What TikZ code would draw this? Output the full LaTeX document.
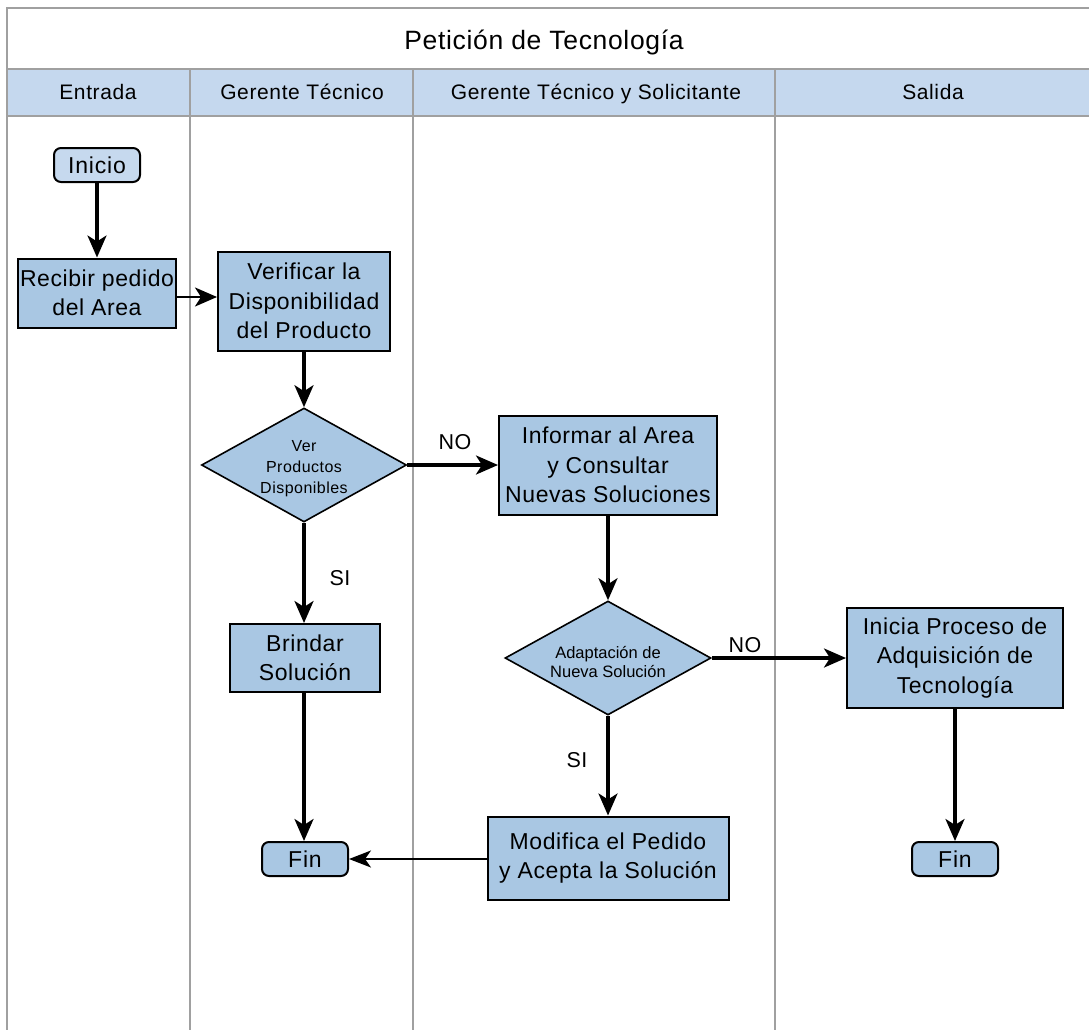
\documentclass[tikz,border=0pt]{standalone}
\usepackage{fontspec}
\setmainfont{Liberation Sans}
\usetikzlibrary{shapes.geometric,arrows.meta}

\definecolor{boxfill}{RGB}{169,199,227}
\definecolor{startfill}{RGB}{198,217,238}
\definecolor{headfill}{RGB}{197,216,238}
\definecolor{laneline}{RGB}{160,160,160}

% sized text with a little extra tracking
\newcommand{\txtsize}[3]{\fontsize{#1}{#2}\selectfont\addfontfeatures{LetterSpace=#3}}

\tikzset{
  procbox/.style={draw=black, line width=2pt, fill=boxfill, align=center,
    inner sep=0pt, font=\txtsize{23}{29.5}{2.5}},
  termbox/.style={draw=black, line width=2pt, rounded corners=7pt, align=center,
    minimum width=86pt, minimum height=34pt, inner sep=0pt, font=\txtsize{23}{29}{3.5}},
  decbox/.style={draw=black, line width=1.6pt, fill=boxfill, diamond, inner sep=0pt},
  dectext/.style={align=center, inner sep=0pt},
  tip/.style={-{Stealth[length=22pt,width=19pt,inset=6pt]}},
  flow/.style={line width=3.2pt, tip},
  thinflow/.style={line width=2pt, -{Stealth[length=22pt,width=17pt,inset=6pt]}},
  lbl/.style={inner sep=0pt, font=\txtsize{21.5}{25}{2.5}},
  headtxt/.style={inner sep=0pt, anchor=base, font=\txtsize{21}{24}{3}},
  lane/.style={draw=laneline, line width=2pt}
}

\begin{document}
\begin{tikzpicture}[x=1pt,y=-1pt]
\useasboundingbox (0,0) rectangle (1089,1030);
\fill[white] (0,0) rectangle (1089,1030);

% pool frame, title and lane headers
\fill[headfill] (7,69) rectangle (1089,116);
\draw[lane] (1089,8) -- (7,8) -- (7,1030);
\draw[lane] (7,69) -- (1089,69);
\draw[lane] (7,116) -- (1089,116);
\draw[lane] (190,69) -- (190,1030);
\draw[lane] (413,69) -- (413,1030);
\draw[lane] (775,69) -- (775,1030);

\node[inner sep=0pt, anchor=base, font=\txtsize{26.5}{30}{2.5}] (title) at (544,50)
  {Petición de Tecnología};
\node[headtxt] (h1) at (98,100) {Entrada};
\node[headtxt] (h2) at (302,100) {Gerente Técnico};
\node[headtxt] (h3) at (596,100) {Gerente Técnico y Solicitante};
\node[headtxt] (h4) at (933,100) {Salida};

% flow nodes
\node[termbox, fill=startfill] (inicio) at (97,165) {Inicio};
\node[procbox, minimum width=158pt, minimum height=69pt] (recibir) at (97,293)
  {Recibir pedido\\del Area};
\node[procbox, minimum width=172pt, minimum height=99pt] (verificar) at (304,301)
  {Verificar la\\Disponibilidad\\del Producto};
\node[decbox, minimum width=205pt, minimum height=114pt] (d1) at (304,465) {};
\node[dectext, font=\txtsize{16}{21}{3}] (d1t) at (304,469)
  {Ver\\Productos\\Disponibles};
\node[procbox, minimum width=218pt, minimum height=99pt] (informar) at (608,465)
  {Informar al Area\\y Consultar\\Nuevas Soluciones};
\node[procbox, minimum width=150pt, minimum height=68pt] (brindar) at (305,658)
  {Brindar\\Solución};
\node[decbox, minimum width=206pt, minimum height=114pt] (d2) at (608,658) {};
\node[dectext, font=\txtsize{16.5}{19}{0}] (d2t) at (608,662)
  {Adaptación de\\Nueva Solución};
\node[procbox, minimum width=216pt, minimum height=100pt] (inicia) at (955,658)
  {Inicia Proceso de\\Adquisición de\\Tecnología};
\node[procbox, minimum width=241pt, minimum height=83pt] (modifica) at (608,858)
  {Modifica el Pedido\\y Acepta la Solución};
\node[termbox, fill=boxfill] (fin1) at (305,859) {Fin};
\node[termbox, fill=boxfill] (fin2) at (955,859) {Fin};

% connectors
\draw[flow] (inicio) -- (recibir);
\draw[line width=2.4pt, tip]
  (recibir.east |- 0,297) -- (verificar.west |- 0,297);
\draw[flow] (verificar.south -| 304,0) -- (d1.north);
\draw[flow] (d1.east) -- (informar.west);
\draw[flow] (d1.south) -- (brindar.north -| d1.south);
\draw[flow] (brindar.south -| 304,0) -- (fin1.north -| 304,0);
\draw[flow] (informar) -- (d2);
\draw[flow] (d2.east) -- (inicia.west);
\draw[flow] (d2.south) -- (modifica.north);
\draw[thinflow] (modifica.west |- fin1) -- (fin1.east);
\draw[flow] (inicia) -- (fin2);

% branch labels
\node[lbl] (no1) at (455,442) {NO};
\node[lbl] (si1) at (340,578) {SI};
\node[lbl] (no2) at (745,645) {NO};
\node[lbl] (si2) at (577,760) {SI};
\end{tikzpicture}
\end{document}
